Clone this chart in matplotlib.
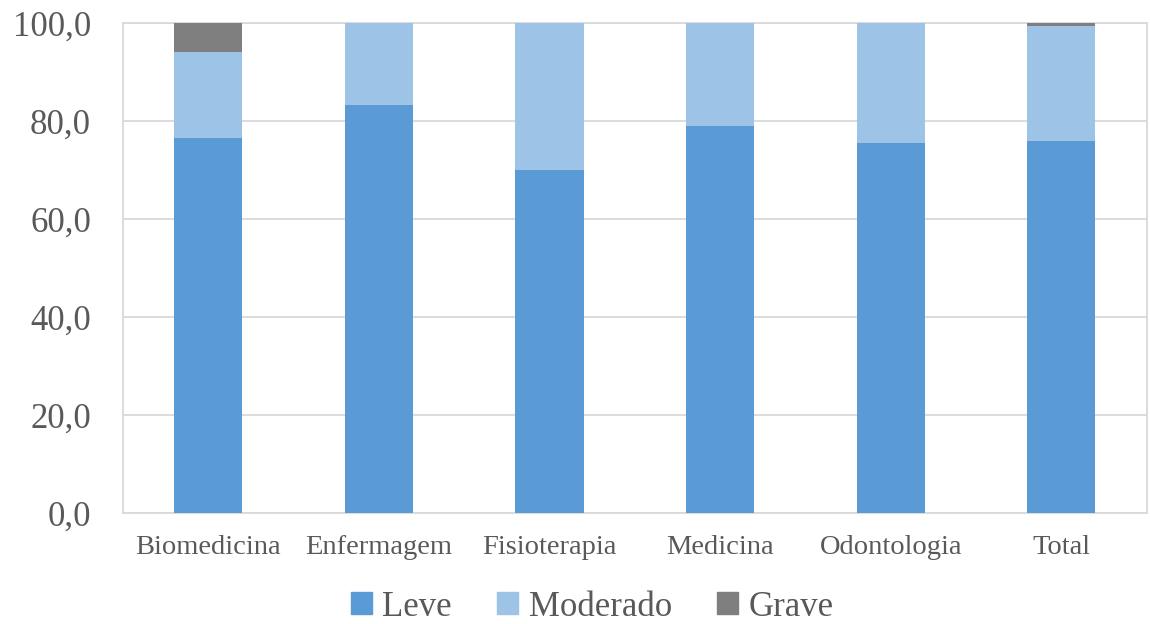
import matplotlib.pyplot as plt
from matplotlib.patches import Patch
from matplotlib.ticker import FuncFormatter

plt.rcParams['font.family'] = ['Liberation Serif', 'DejaVu Serif']

cursos = ["Biomedicina", "Enfermagem", "Fisioterapia", "Medicina", "Odontologia", "Total"]
leve = [76.5, 83.3, 70.0, 78.9, 75.6, 75.9]
moderado = [17.6, 16.7, 30.0, 21.1, 24.4, 23.6]
grave = [5.9, 0.0, 0.0, 0.0, 0.0, 0.5]

c_leve = "#5B9BD5"
c_mod = "#9DC3E6"
c_grave = "#7F7F7F"
txt = "#595959"
grid = "#D9D9D9"

fig = plt.figure(figsize=(11.5, 6.24), dpi=100)
ax = fig.add_axes([0.107, 0.178, 0.890, 0.785])

x = range(len(cursos))
base2 = [a + b for a, b in zip(leve, moderado)]
ax.bar(x, leve, width=0.4, color=c_leve, zorder=3)
ax.bar(x, moderado, width=0.4, bottom=leve, color=c_mod, zorder=3)
ax.bar(x, grave, width=0.4, bottom=base2, color=c_grave, zorder=3)

ax.set_xlim(-0.5, 5.5)
ax.set_ylim(0, 100)
ax.set_yticks([0, 20, 40, 60, 80, 100])
ax.yaxis.set_major_formatter(FuncFormatter(lambda v, p: f"{v:.1f}".replace(".", ",")))
ax.set_xticks(list(x))
ax.set_xticklabels(cursos)
ax.tick_params(axis='y', length=0, pad=23, labelsize=25, labelcolor=txt)
ax.tick_params(axis='x', length=0, pad=16, labelsize=20.5, labelcolor=txt)

ax.grid(axis='y', color=grid, linewidth=1.3, zorder=0)
for s in ax.spines.values():
    s.set_color(grid)
    s.set_linewidth(1.3)

handles = [Patch(color=c_leve, label="Leve"),
           Patch(color=c_mod, label="Moderado"),
           Patch(color=c_grave, label="Grave")]
fig.legend(handles=handles, loc='center', bbox_to_anchor=(0.515, 0.027), ncol=3,
           frameon=False, fontsize=25, labelcolor=txt, handlelength=0.6,
           handleheight=0.6, handletextpad=0.3, columnspacing=1.3)

fig.savefig("out.png", dpi=100)
